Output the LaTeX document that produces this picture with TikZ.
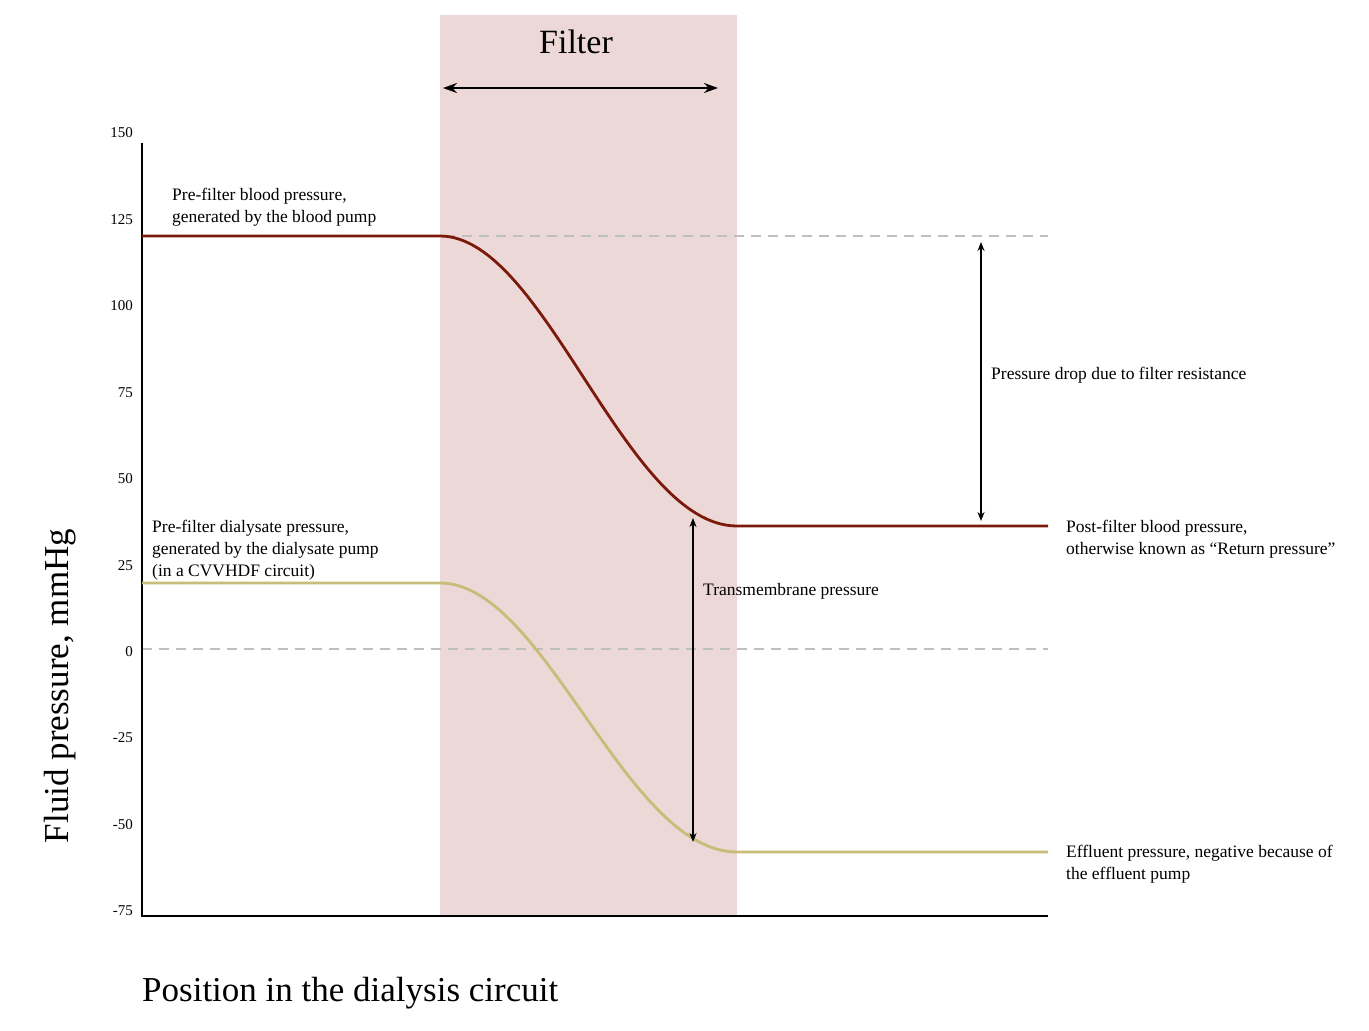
\documentclass[tikz,border=0pt]{standalone}
\usepackage{fontspec}
\setmainfont{Liberation Serif}
\usetikzlibrary{arrows.meta}
\definecolor{filt}{HTML}{EDD8D8}
\definecolor{blood}{HTML}{7B1A0A}
\definecolor{dial}{HTML}{C8BC78}
\definecolor{dashgray}{HTML}{BFBFBF}
\begin{document}
\begin{tikzpicture}[x=1pt,y=-1pt,
  lbl/.style={font=\fontsize{17.5}{22}\selectfont,align=left,anchor=west,inner sep=0},
  tick/.style={font=\fontsize{15}{16}\selectfont,anchor=east,inner sep=0},
  dbl/.style={{Stealth[length=14pt,width=10pt]}-{Stealth[length=14pt,width=10pt]},line width=2pt},
  sdbl/.style={{Stealth[length=9pt,width=7pt]}-{Stealth[length=9pt,width=7pt]},line width=1.6pt},
  grid/.style={dashgray,dash pattern=on 10pt off 7pt,line width=1.8pt}]
\useasboundingbox (0,0) rectangle (1369,1031);
\fill[white] (0,0) rectangle (1369,1031);
\fill[filt] (440,15) rectangle (737,916);
\node[font=\fontsize{34}{38}\selectfont] (filter) at (576,42) {Filter};
\coordinate (fa) at (443,88); \coordinate (fb) at (718,88);
\draw[dbl] (fa) -- (fb);
% dashed lines
\draw[grid] (445,236) -- (1048,236);
\draw[grid] (142,649) -- (1048,649);
% axes
\draw[line width=2.8pt] (142,143) -- (142,916) -- (1048,916);
\foreach \v/\y in {150/133,125/220,100/306,75/393,50/479,25/566,0/652,-25/738,-50/825,-75/911}
  \node[tick] at (133,\y) {\v};
% curves
\draw[blood,line width=2.8pt] (142,236) -- (440,236) .. controls (545,236) and (625,526) .. (737,526) -- (1048,526);
\draw[dial,line width=2.8pt] (142,583) -- (440,583) .. controls (545,583) and (625,852) .. (737,852) -- (1048,852);
% arrows
\coordinate (p1) at (981,242); \coordinate (p2) at (981,521);
\draw[sdbl] (p1) -- (p2);
\coordinate (t1) at (693,518); \coordinate (t2) at (693,842);
\draw[sdbl] (t1) -- (t2);
% labels
\node[lbl] (a) at (172,207) {Pre-filter blood pressure,\\generated by the blood pump};
\node[lbl] (b) at (152,550) {Pre-filter dialysate pressure,\\generated by the dialysate pump\\(in a CVVHDF circuit)};
\node[lbl] (c) at (991,375) {Pressure drop due to filter resistance};
\node[lbl] (d) at (703,591) {Transmembrane pressure};
\node[lbl] (e) at (1066,539) {Post-filter blood pressure,\\otherwise known as “Return pressure”};
\node[lbl] (f) at (1066,864) {Effluent pressure, negative because of\\the effluent pump};
\node[font=\fontsize{35}{38}\selectfont,rotate=90] (yl) at (60,686) {Fluid pressure, mmHg};
\node[font=\fontsize{35}{38}\selectfont,anchor=west,inner sep=0] (xl) at (142,993) {Position in the dialysis circuit};
\end{tikzpicture}
\end{document}
